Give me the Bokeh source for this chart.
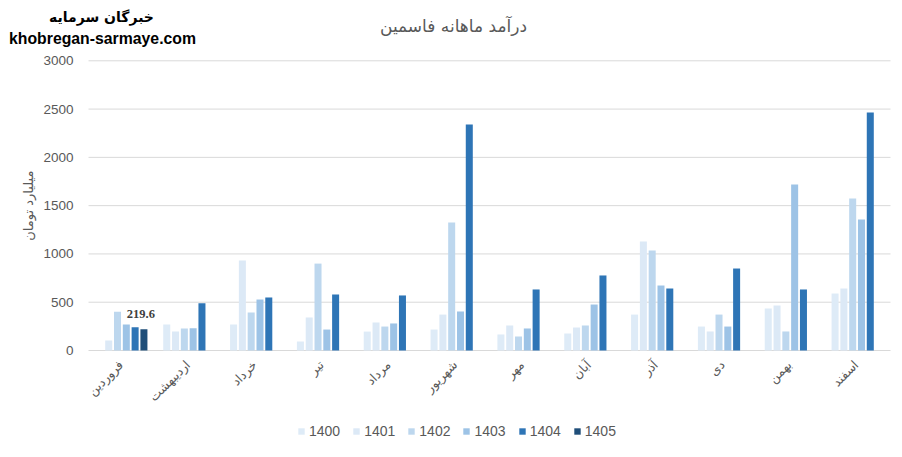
from bokeh.plotting import figure
from bokeh.models import ColumnDataSource, Range1d, LabelSet, Legend, LegendItem
from bokeh.core.properties import value
from bokeh.transform import dodge
from bokeh.embed import file_html
from bokeh.resources import INLINE
import math

# ---------------- data ----------------
months = ["فروردین", "اردیبهشت", "خرداد", "تیر", "مرداد", "شهریور",
          "مهر", "آبان", "آذر", "دی", "بهمن", "اسفند"]
years = ["1400", "1401", "1402", "1403", "1404", "1405"]
y1400 = [None, 268, 269, 93, 196, 217, 166, 176, 372, 248, 435, 590]
y1401 = [103, 196, 932, 342, 290, 372, 259, 238, 1129, 197, 466, 642]
y1402 = [400, 227, 393, 900, 248, 1325, 145, 259, 1035, 372, 197, 1574]
y1403 = [270, 230, 528, 217, 280, 404, 228, 476, 673, 248, 1719, 1357]
y1404 = [240, 490, 549, 580, 570, 2340, 632, 777, 642, 849, 632, 2465]
y1405 = [219.6, None, None, None, None, None, None, None, None, None, None, None]
series = [y1400, y1401, y1402, y1403, y1404, y1405]
y_ticks = [0, 500, 1000, 1500, 2000, 2500, 3000]

title_text = "درآمد ماهانه فاسمین"
y_title = "میلیارد تومان"
brand_fa = "خبرگان سرمایه"
brand_en = "khobregan-sarmaye.com"

# ---------------- style / layout ----------------
colors = ["#DEEBF7", "#DCE9F6", "#BDD7EE", "#9DC3E6", "#2E75B6", "#1F4E79"]
W, H = 902, 457
left_px, right_px = 88, 890
base_px, top_px = 350, 60.3
grey = "#595959"
grid_col = "#D9D9D9"

n = len(months)
cw = (right_px - left_px) / n
ys = (base_px - top_px) / y_ticks[-1]

p = figure(width=W, height=H, output_backend="svg", toolbar_location=None,
           x_axis_location=None, y_axis_location=None,
           x_range=Range1d(-left_px / cw, n + (W - right_px) / cw),
           y_range=Range1d(-(H - base_px) / ys, base_px / ys),
           min_border=0)
p.outline_line_color = None
p.xgrid.visible = False
p.ygrid.visible = False
p.background_fill_color = "white"
p.border_fill_color = "white"

# gridlines (value axis)
p.segment(x0=0, x1=n, y0=y_ticks, y1=y_ticks, line_color=grid_col, line_width=1)

# y tick labels
p.text(x=0, y=y_ticks, text=[str(t) for t in y_ticks], x_offset=-15,
       text_align="right", text_baseline="middle", text_font=value("Liberation Sans"),
       text_font_size="13.5px", text_color=grey)

# y title
p.text(x=[0], y=[(y_ticks[0] + y_ticks[-1]) / 2], text=[y_title], x_offset=-60,
       angle=math.pi / 2, text_align="center", text_baseline="middle",
       text_font=value("DejaVu Sans"), text_font_size="13px", text_color=grey)

# category labels
xc = [i + 0.5 for i in range(n)]
p.text(x=xc, y=0, text=months, angle=math.pi / 4, x_offset=-1, y_offset=12,
       text_align="right", text_baseline="middle", text_font=value("DejaVu Sans"),
       text_font_size="12.5px", text_color=grey)

# bars
slot = 0.1317
bw = 0.105
items = []
for k, (yr, vals, col) in enumerate(zip(years, series, colors)):
    xs = [x for x, v in zip(xc, vals) if v is not None]
    v = [vv for vv in vals if vv is not None]
    src = ColumnDataSource(dict(x=xs, val=v, txt=[str(t) for t in v]))
    off = (k - 2.5) * slot
    r = p.vbar(x=dodge('x', off), top='val', width=bw, source=src,
               fill_color=col, line_color=None)
    items.append(LegendItem(label=yr, renderers=[r]))
    if yr == "1405":
        p.add_layout(LabelSet(x=dodge('x', off - 0.045), y='val', text='txt', source=src,
                              y_offset=11, text_align="center", text_baseline="alphabetic",
                              text_font_size="12.5px", text_font_style="bold",
                              text_color="#404040", text_font="Liberation Sans"))

# title and brand texts
p.text(x=[n / 2], y=[y_ticks[-1]], text=[title_text], x_offset=-36, y_offset=-35,
       text_align="center", text_baseline="middle", text_font=value("DejaVu Sans"),
       text_font_size="17px", text_color=grey)
p.text(x=[0], y=[y_ticks[-1]], text=[brand_fa], x_offset=13, y_offset=-44,
       text_align="center", text_baseline="middle", text_font=value("DejaVu Sans"),
       text_font_size="14px", text_font_style="bold", text_color="#000000")
p.text(x=[0], y=[y_ticks[-1]], text=[brand_en], x_offset=14, y_offset=-22,
       text_align="center", text_baseline="middle", text_font=value("Liberation Sans"),
       text_font_size="15.8px", text_font_style="bold", text_color="#000000")

legend = Legend(items=items, orientation="horizontal", location=(297, 18),
                glyph_width=8, glyph_height=8, label_standoff=4, spacing=12,
                padding=0, margin=0, label_height=16,
                label_text_font="Liberation Sans", label_text_font_size="14px",
                label_text_color=grey, border_line_color=None,
                background_fill_alpha=0)
p.add_layout(legend, "center")

open("out.html", "w").write(file_html(p, INLINE))
